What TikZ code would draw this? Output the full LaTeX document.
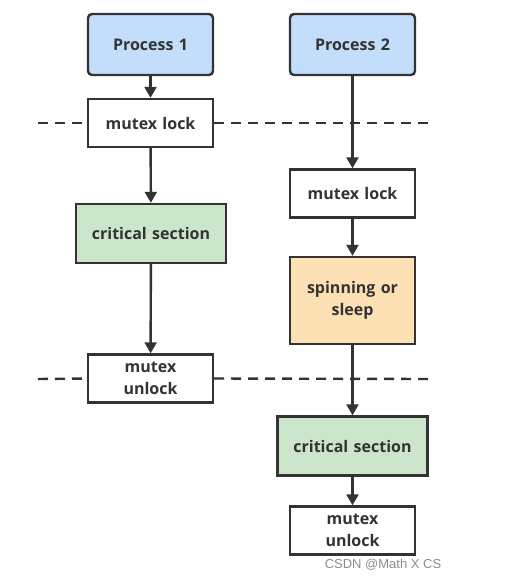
\documentclass[tikz,border=0pt]{standalone}
\usepackage{fontspec}
\setmainfont{Open Sans}
\usetikzlibrary{arrows.meta}
\definecolor{edge}{HTML}{333333}
\definecolor{pblue}{HTML}{C2DEFA}
\definecolor{cgreen}{HTML}{CCE6CC}
\definecolor{sorange}{HTML}{FEE0B5}
\tikzset{
  box/.style={draw=edge, line width=2.4pt, fill=white, minimum width=125pt, minimum height=48pt, inner sep=1pt, align=center, text width=120pt, font=\fontsize{16}{22}\selectfont\bfseries, text=edge},
  proc/.style={box, rounded corners=4pt, fill=pblue, minimum height=61pt},
  crit/.style={box, fill=cgreen, minimum width=150pt, minimum height=59pt},
  spin/.style={box, fill=sorange, minimum height=87pt},
  arr/.style={draw=edge, line width=2.4pt, -{Triangle[length=11pt,width=12pt]}},
  sepline/.style={draw=edge, line width=2.4pt, dash pattern=on 10pt off 7pt}
}
\begin{document}
\begin{tikzpicture}[x=1pt,y=-1pt]
\useasboundingbox (0,0) rectangle (518,587);
\node[proc] (p1) at (150.5,44.5) {Process 1};
\node[proc] (p2) at (352.5,44.5) {Process 2};
\node[box] (l1) at (150.5,123) {mutex lock};
\node[box] (l2) at (352.5,193.5) {mutex lock};
\node[crit] (c1) at (151,233.5) {critical section};
\node[spin] (s2) at (352.5,300.5) {spinning or\\sleep};
\node[box] (u1) at (150.5,378.5) {mutex\\unlock};
\node[crit] (c2) at (352.5,446) {critical section};
\node[box] (u2) at (352.5,530.5) {mutex\\unlock};
\coordinate (dl1) at (38,123);
\coordinate (dr1) at (430,123);
\coordinate (dl2) at (38,379);
\coordinate (dr2) at (430,379);
\draw[sepline] (dl1) -- (l1.west);
\draw[sepline] (l1.east) -- (dr1);
\draw[sepline] (dl2) -- (u1.west);
\draw[sepline] (u1.east) -- (dr2);
\draw[arr] (p1) -- (l1);
\draw[arr] (l1) -- (c1);
\draw[arr] (c1) -- (u1);
\draw[arr] (p2) -- (l2);
\draw[arr] (l2) -- (s2);
\draw[arr] (s2) -- (c2);
\draw[arr] (c2) -- (u2);
\node[font=\fontspec{Liberation Sans}\fontsize{13}{15}\selectfont, text=black!45] (wm) at (383,565) {CSDN @Math X CS};
\end{tikzpicture}
\end{document}
